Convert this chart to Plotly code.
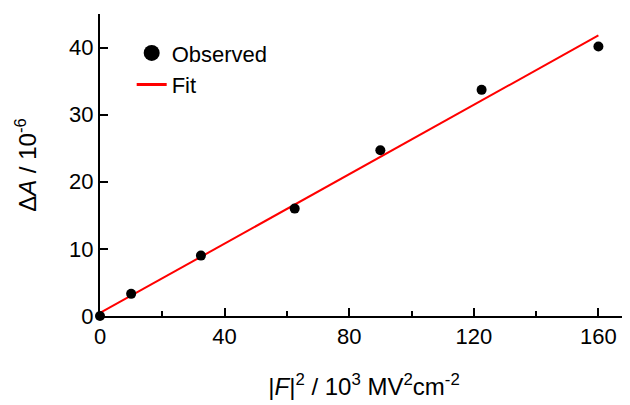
import plotly.graph_objects as go

field_sq = [0, 10, 32.4, 62.5, 90, 122.5, 160]
delta_a = [0, 3.3, 9.0, 16.0, 24.7, 33.7, 40.15]
fit_x = [0, 160]
fit_y = [0.45, 41.8]

FONT = "Liberation Sans, Arial, sans-serif"

fig = go.Figure()
fig.add_trace(go.Scatter(x=fit_x, y=fit_y, mode="lines",
                         line=dict(color="#ff0000", width=2), showlegend=False))
fig.add_trace(go.Scatter(x=field_sq, y=delta_a, mode="markers",
                         marker=dict(color="black", size=10), cliponaxis=False,
                         showlegend=False))
# legend entries
fig.add_trace(go.Scatter(x=[None], y=[None], mode="markers", name="Observed",
                         marker=dict(color="black", size=16)))
fig.add_trace(go.Scatter(x=[None], y=[None], mode="lines", name="Fit",
                         line=dict(color="#ff0000", width=3)))

fig.update_layout(
    width=630, height=405, autosize=False,
    margin=dict(l=92, r=10, t=6, b=97),
    paper_bgcolor="white", plot_bgcolor="white",
    font=dict(family=FONT, size=22, color="black"),
    legend=dict(x=0.06, y=0.94, xanchor="left", yanchor="top",
                bgcolor="rgba(0,0,0,0)", font=dict(size=22),
                tracegroupgap=0, itemwidth=30),
    xaxis=dict(range=[0, 169.5], tickvals=[0, 40, 80, 120, 160],
               ticks="inside", ticklen=8, tickwidth=2, tickcolor="black",
               minor=dict(tickvals=[20, 60, 100, 140], ticks="inside", ticklen=5,
                          tickwidth=2, tickcolor="black"),
               showline=True, linewidth=2, linecolor="black",
               showgrid=False, zeroline=False,
               title=dict(text="|<i>F</i>|<sup>2</sup> / 10<sup>3</sup> MV<sup>2</sup>cm<sup>-2</sup>",
                          standoff=30, font=dict(size=24))),
    yaxis=dict(range=[0, 45], tickvals=[0, 10, 20, 30, 40],
               ticks="inside", ticklen=8, tickwidth=2, tickcolor="black",
               showline=True, linewidth=2, linecolor="black",
               showgrid=False, zeroline=False,
               title=dict(text="Δ<i>A</i> / 10<sup>-6</sup>", standoff=26,
                          font=dict(size=24))),
)

fig.write_html("out.html")
